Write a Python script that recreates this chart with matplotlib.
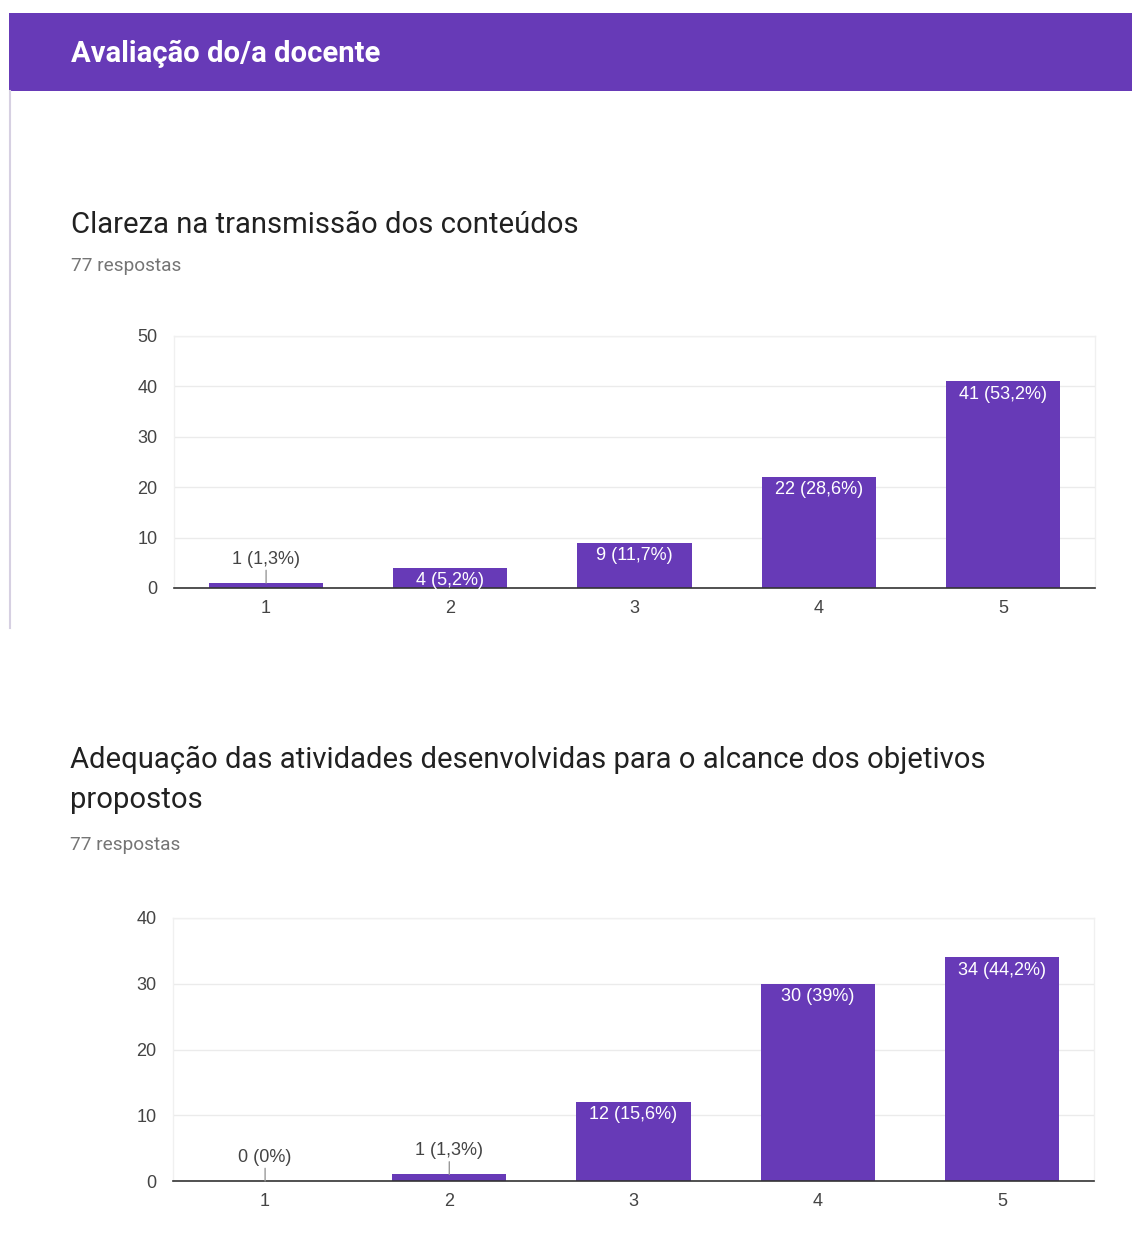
import matplotlib
matplotlib.use("Agg")
import matplotlib.pyplot as plt
from matplotlib.patches import Rectangle
from matplotlib.lines import Line2D

plt.rcParams['font.family'] = ['Roboto', 'DejaVu Sans']
CHART_FONT = ['Liberation Sans', 'DejaVu Sans']

header_title = "Avaliação do/a docente"
responses_label = "77 respostas"
total_responses = 77

categories = ["1", "2", "3", "4", "5"]

q1_title = "Clareza na transmissão dos conteúdos"
q1_values = [1, 4, 9, 22, 41]
q1_yticks = [0, 10, 20, 30, 40, 50]

q2_title_lines = ["Adequação das atividades desenvolvidas para o alcance dos objetivos", "propostos"]
q2_values = [0, 1, 12, 30, 34]
q2_yticks = [0, 10, 20, 30, 40]

W, H = 1132, 1256
DPI = 100
PURPLE = "#673ab7"

fig = plt.figure(figsize=(W / DPI, H / DPI), dpi=DPI)
fig.patch.set_facecolor("white")


def fx(px):
    return px / W


def fy(py):
    return 1 - py / H


# header band
fig.patches.append(Rectangle((fx(9), fy(91)), fx(1132) - fx(9), fy(13) - fy(91),
                             transform=fig.transFigure, facecolor=PURPLE, edgecolor="none"))
fig.lines.append(Line2D([fx(9.5), fx(9.5)], [fy(91), fy(628)], transform=fig.transFigure,
                        color="#d6d0e2", lw=1.5))
fig.text(fx(71), fy(62), header_title, color="white", fontsize=21.1, fontweight="bold",
         va="baseline", ha="left")


def fmt_label(v):
    pct = round(v / total_responses * 100, 1)
    s = f"{pct:.1f}".replace(".", ",")
    if s.endswith(",0"):
        s = s[:-2]
    return f"{v} ({s}%)"


def draw_chart(left, top, right, bottom, values, yticks):
    ax = fig.add_axes([fx(left), fy(bottom), fx(right) - fx(left), fy(top) - fy(bottom)])
    x = list(range(len(categories)))
    ax.bar(x, values, width=0.62, color=PURPLE, zorder=3)
    ax.set_xlim(-0.5, len(categories) - 0.5)
    ax.set_ylim(0, yticks[-1])
    ax.set_yticks(yticks)
    ax.set_xticks(x)
    ax.set_xticklabels(categories)
    ax.yaxis.grid(True, color="#ebebeb", lw=1, zorder=0)
    for s in ["left", "right", "top"]:
        ax.spines[s].set_color("#f0f0f0")
        ax.spines[s].set_linewidth(1)
    ax.spines["bottom"].set_color("#333333")
    ax.spines["bottom"].set_linewidth(1.2)
    ax.spines["bottom"].set_zorder(4)
    ax.tick_params(axis="both", length=0, labelsize=13, labelcolor="#444444")
    for lab in ax.get_xticklabels() + ax.get_yticklabels():
        lab.set_family(CHART_FONT)
    ax.tick_params(axis="y", pad=12)
    ax.tick_params(axis="x", pad=8.5)
    px_per_unit = (bottom - top) / yticks[-1]
    for xi, v in zip(x, values):
        label = fmt_label(v)
        if v * px_per_unit >= 18:
            ax.annotate(label, (xi, v), xytext=(0, -3), textcoords="offset points",
                        ha="center", va="top", color="white", fontsize=13, zorder=5,
                        family=CHART_FONT)
        else:
            ax.annotate(label, (xi, v), xytext=(0, 14), textcoords="offset points",
                        ha="center", va="baseline", color="#444444", fontsize=13, zorder=5,
                        family=CHART_FONT,
                        arrowprops=dict(arrowstyle="-", color="#999999", lw=1,
                                        shrinkA=0, shrinkB=0))
    return ax


fig.text(fx(71), fy(233), q1_title, color="#212121", fontsize=21.1, va="baseline", ha="left")
fig.text(fx(71), fy(271), responses_label, color="#757575", fontsize=13.7, va="baseline", ha="left")
draw_chart(174, 336, 1095, 588, q1_values, q1_yticks)

fig.text(fx(70), fy(768), q2_title_lines[0], color="#212121", fontsize=21.1, va="baseline", ha="left")
fig.text(fx(70), fy(808), q2_title_lines[1], color="#212121", fontsize=21.1, va="baseline", ha="left")
fig.text(fx(70), fy(850), responses_label, color="#757575", fontsize=13.7, va="baseline", ha="left")
draw_chart(173, 918, 1094, 1181, q2_values, q2_yticks)

fig.savefig("out.png", dpi=DPI)
